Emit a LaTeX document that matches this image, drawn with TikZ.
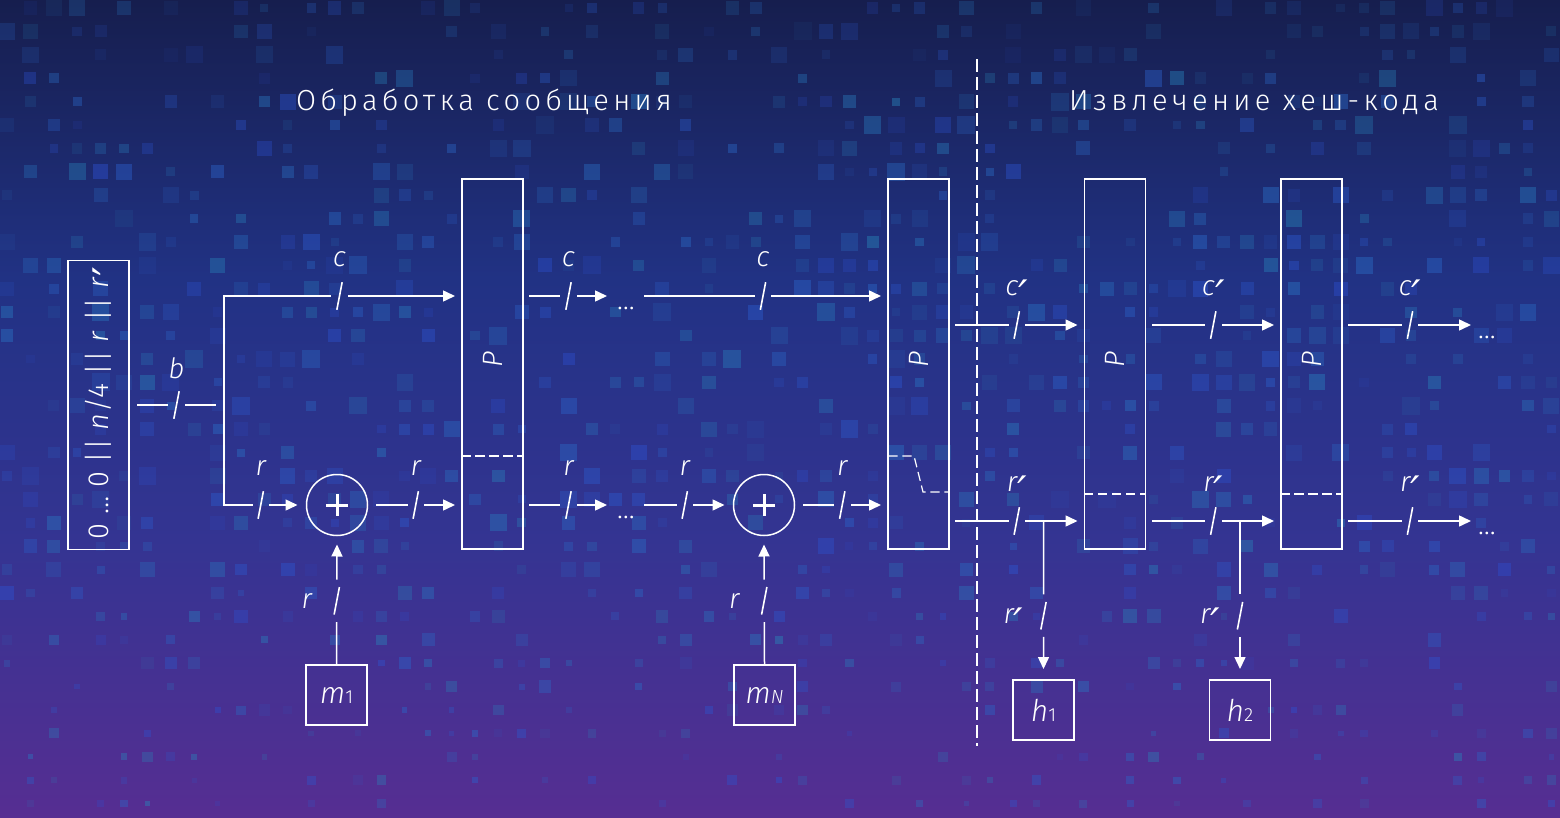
\documentclass[tikz,border=0pt]{standalone}
\usepackage{fontspec}
\setmainfont{Fira Sans Light}[ItalicFont={Fira Sans Light Italic}]
\newfontfamily\titlefont{Fira Sans Light}[LetterSpace=15]
\newfontfamily\padfont{Fira Sans Light}[LetterSpace=2,ItalicFont={Fira Sans Light Italic}]
\newfontfamily\primefont{DejaVu Sans}[Scale=1.5]
\usetikzlibrary{arrows.meta,calc}

\definecolor{bgtop}{RGB}{22,30,78}
\definecolor{bgmid}{RGB}{33,50,132}
\definecolor{bgpur}{RGB}{52,52,146}
\definecolor{bgbot}{RGB}{86,46,146}
\definecolor{sqblue}{RGB}{45,80,210}
\definecolor{sqteal}{RGB}{40,135,185}
\pgfdeclareverticalshading{bgshade}{100bp}{color(0bp)=(bgbot); color(25bp)=(bgbot); color(42bp)=(bgpur); color(58bp)=(bgmid); color(75bp)=(bgtop); color(100bp)=(bgtop)}

\tikzset{
  pbox/.style={draw, minimum width=61pt, minimum height=370pt, inner sep=0pt, outer sep=7pt},
  padbox/.style={draw, minimum width=61pt, minimum height=289pt, inner sep=0pt, outer sep=9pt},
  mbox/.style={draw, minimum width=61pt, minimum height=60pt, inner sep=0pt, font=\fontsize{30}{30}\selectfont},
  hbox/.style={mbox, outer sep=11pt},
  xorc/.style={circle, draw, minimum size=61pt, inner sep=0pt, outer sep=9pt},
  gapn/.style={minimum width=38pt, minimum height=1pt, inner sep=0pt, outer sep=0pt},
  lbl/.style={font=\fontsize{28}{28}\selectfont\itshape, inner sep=0pt},
  plbl/.style={font=\fontsize{28}{28}\selectfont\itshape, rotate=90, inner sep=0pt},
  dotl/.style={font=\fontsize{28}{28}\selectfont, inner sep=0pt},
  ttl/.style={font=\titlefont\fontsize{29}{29}\selectfont, inner sep=0pt},
  slash/.style={line width=1.6pt},
  boxdash/.style={line width=1.2pt, dash pattern=on 8pt off 6pt},
  sepdash/.style={line width=1.2pt, dash pattern=on 11pt off 7pt}
}

\newcommand{\prm}{{\primefont\raisebox{-0.36em}[0pt][0pt]{′}}}
\newcommand{\busline}[5][->]{%
  \coordinate (bm) at ($(#2)!.5!(#3)$);
  \draw[shorten >=9pt] (#2) -- (bm);
  \draw[#1,shorten <=9pt] (bm) -- (#3);
  \draw[slash] (bm) +(-2.5,13) -- +(2.5,-13);
  \node[lbl] (#4) at ($(bm)+(0,-37)$) {#5};
}
\newcommand{\vbusline}[6][->]{%
  \coordinate (bm) at ($(#2)!#4!(#3)$);
  \draw[shorten >=22pt] (#2) -- (bm);
  \draw[#1,shorten <=22pt] (bm) -- (#3);
  \draw[slash] (bm) +(-2.5,13) -- +(2.5,-13);
  \node[lbl] (#5) at ($(bm)+(-30,0)$) {#6};
}

\begin{document}
\begin{tikzpicture}[x=1pt, y=-1pt, >={Triangle[length=12pt,width=11pt]}, line width=1.5pt, white, line cap=rect]
\useasboundingbox (0,0) rectangle (1560,818);
\shade[shading=bgshade] (0,0) rectangle (1560,818);

% background squares
\pgfmathsetseed{41}
\foreach \i in {0,...,66}{
  \foreach \j in {0,...,34}{
    \pgfmathsetmacro{\px}{7+23.4*\i}
    \pgfmathsetmacro{\py}{8+23.4*\j}
    \pgfmathsetmacro{\pk}{rnd-(\py<480 ? 0.48 : 0.48-0.2*(\py-480)/338)}
    \ifdim\pk pt<0pt
      \pgfmathsetmacro{\sz}{(8+10*rnd)*(\py<480 ? 1 : 1-0.5*(\py-480)/338)}
      \pgfmathsetmacro{\op}{(0.1+0.35*rnd)*(\py<70 ? 0.6 : 1)}
      \pgfmathtruncatemacro{\mx}{100*rnd}
      \fill[sqblue!\mx!sqteal, opacity=\op] (\px-\sz/2,\py-\sz/2) rectangle ++(\sz,\sz);
    \fi
  }
}

\node[ttl] (t1) at (484,103) {Обработка сообщения};
\node[ttl] (t2) at (1254,103) {Извлечение хеш-кода};
\draw[sepdash] (977,60) -- (977,745);

\node[padbox] (pad) at (98.5,405) {};
\node[rotate=90, font=\padfont\fontsize{29}{29}\selectfont] (padt) at ($(pad)+(0,-2)$) {0 … 0 || \textit{n}/4 || \textit{r} || \textit{r}\prm};

\node[pbox] (P1) at (492.5,364) {};
\node[pbox] (P2) at (918.5,364) {};
\node[pbox] (P3) at (1115,364) {};
\node[pbox] (P4) at (1311.5,364) {};
\foreach \b in {1,...,4}
  \node[plbl] (Pt\b) at ($(P\b)+(0,-4)$) {P};

\draw[boxdash] ($(P1.west |- 0,456)+(7,0)$) -- ($(P1.east |- 0,456)+(-7,0)$);
\draw[boxdash] (889,456) -- (914,456) -- (923,492) -- (949,492);
\draw[boxdash] ($(P3.west |- 0,494)+(7,0)$) -- ($(P3.east |- 0,494)+(-7,0)$);
\draw[boxdash] ($(P4.west |- 0,494)+(7,0)$) -- ($(P4.east |- 0,494)+(-7,0)$);

\node[xorc] (x1) at (337,505) {};
\node[xorc] (x2) at (764,505) {};
\foreach \x in {x1,x2}
  \draw[line width=3pt, line cap=butt] (\x.center) +(-11,0) -- +(11,0) (\x.center) +(0,-11) -- +(0,11);

\node[mbox] (m1) at (336.5,695) {\textit{m}{\fontsize{19}{19}\selectfont 1}};
\node[mbox] (mN) at (764.5,695) {\textit{m}{\fontsize{19}{19}\selectfont\itshape N}};
\node[hbox] (h1) at (1043.5,710) {\textit{h}{\fontsize{19}{19}\selectfont 1}};
\node[hbox] (h2) at (1240,710) {\textit{h}{\fontsize{19}{19}\selectfont 2}};

% message processing
\coordinate (bend) at (215,405);
\coordinate (st) at (224,296);
\coordinate (sb) at (224,505);
\draw (st) -- (sb);
\busline[-]{pad.east}{bend}{lb}{b}
\busline{st}{P1.west |- st}{lc1}{c}
\busline{sb}{x1.west}{lr1}{r}
\busline{x1.east}{P1.west |- x1}{lr2}{r}

\node[gapn] (g1) at (626,296) {};
\node[gapn] (g2) at (626,505) {};
\node[dotl] (d1) at ($(g1)+(0,12)$) {…};
\node[dotl] (d2) at ($(g2)+(0,12)$) {…};
\busline{P1.east |- st}{g1.west}{lc2}{c}
\busline{g1.east}{P2.west |- st}{lc3}{c}
\busline{P1.east |- sb}{g2.west}{lr3}{r}
\busline{g2.east}{x2.west}{lr4}{r}
\busline{x2.east}{P2.west |- sb}{lr5}{r}
\vbusline{m1.north}{x1.south}{0.53}{lr6}{r}
\vbusline{mN.north}{x2.south}{0.53}{lr7}{r}

% hash extraction
\coordinate (rt) at (0,325);
\coordinate (rb) at (0,521);
\busline{P2.east |- rt}{P3.west |- rt}{lc4}{c\prm}
\busline{P2.east |- rb}{P3.west |- rb}{lr8}{r\prm}
\busline{P3.east |- rt}{P4.west |- rt}{lc5}{c\prm}
\busline{P3.east |- rb}{P4.west |- rb}{lr9}{r\prm}
\coordinate (j1) at (h1.north |- rb);
\coordinate (j2) at (h2.north |- rb);
\vbusline{j1}{h1.north}{0.64}{lr10}{r\prm}
\vbusline{j2}{h2.north}{0.64}{lr11}{r\prm}

\node[gapn] (g3) at (1490,325) {};
\node[gapn] (g4) at (1490,521) {};
\node[dotl] (d3) at ($(g3)+(-3,12)$) {…};
\node[dotl] (d4) at ($(g4)+(-3,12)$) {…};
\busline{P4.east |- rt}{g3.west}{lc6}{c\prm}
\busline{P4.east |- rb}{g4.west}{lr12}{r\prm}
\end{tikzpicture}
\end{document}
